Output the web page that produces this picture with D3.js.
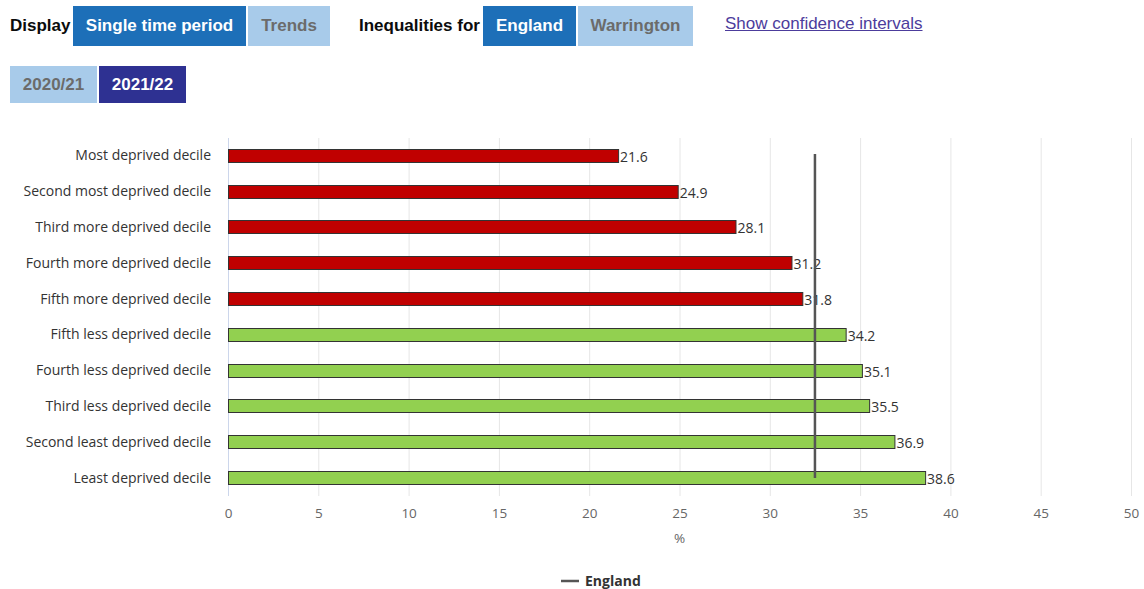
<!DOCTYPE html>
<html>
<head>
<meta charset="utf-8">
<script src="https://cdn.jsdelivr.net/npm/d3@7"></script>
<style>
  html, body { margin: 0; padding: 0; background: #fff; width: 1144px; height: 589px; overflow: hidden; }
  .ctl { position: absolute; font-family: "Liberation Sans", Arial, sans-serif; font-size: 17px; font-weight: bold; box-sizing: border-box; display: flex; align-items: center; justify-content: center; }
  .lbl { color: #0b0c0c; justify-content: flex-start; }
  .on { background: #1d6fb8; color: #fff; }
  .off { background: #a8cbea; color: #6b6b6b; }
  .navy { background: #2e3192; color: #fff; }
  .link { color: #4c3c9c; font-weight: normal; text-decoration: underline; justify-content: flex-start; }
  svg { position: absolute; left: 0; top: 0; }
</style>
</head>
<body>
<div class="ctl lbl" style="left:10px;top:6px;width:62px;height:39px;">Display</div>
<div class="ctl on" style="left:73px;top:6px;width:173px;height:40px;">Single time period</div>
<div class="ctl off" style="left:248px;top:6px;width:82px;height:40px;">Trends</div>
<div class="ctl lbl" style="left:359px;top:6px;width:124px;height:39px;">Inequalities for</div>
<div class="ctl on" style="left:483px;top:6px;width:93px;height:40px;">England</div>
<div class="ctl off" style="left:578px;top:6px;width:115px;height:40px;">Warrington</div>
<div class="ctl link" style="left:725px;top:4px;width:220px;height:39px;">Show confidence intervals</div>
<div class="ctl off" style="left:10px;top:66px;width:87px;height:37px;">2020/21</div>
<div class="ctl navy" style="left:99px;top:66px;width:87px;height:37px;">2021/22</div>
<svg id="chart" width="1144" height="589"></svg>
<script>
const categories = [
  "Most deprived decile",
  "Second most deprived decile",
  "Third more deprived decile",
  "Fourth more deprived decile",
  "Fifth more deprived decile",
  "Fifth less deprived decile",
  "Fourth less deprived decile",
  "Third less deprived decile",
  "Second least deprived decile",
  "Least deprived decile"
];
const values = [21.6, 24.9, 28.1, 31.2, 31.8, 34.2, 35.1, 35.5, 36.9, 38.6];
const groups = ["more", "more", "more", "more", "more", "less", "less", "less", "less", "less"];
const englandValue = 32.5;
const xTicks = [0, 5, 10, 15, 20, 25, 30, 35, 40, 45, 50];
const xTitle = "%";
const legendLabel = "England";

const svg = d3.select("#chart");
const font = "'Open Sans', sans-serif";
const x = d3.scaleLinear().domain([0, 50]).range([228, 1131]);
const y = d3.scaleBand().domain(categories).range([138, 496]).paddingInner(0.6).paddingOuter(0.3);
const colour = d3.scaleOrdinal().domain(["more", "less"]).range(["#c00000", "#92d050"]);

// gridlines
svg.append("g").selectAll("line").data(xTicks).join("line")
  .attr("x1", d => x(d) + 0.5).attr("x2", d => x(d) + 0.5)
  .attr("y1", 138).attr("y2", 496)
  .attr("stroke", d => d === 0 ? "#ccd6eb" : "#e6e6e6").attr("stroke-width", 1);

// x axis labels
const xAxis = d3.axisBottom(x).tickValues(xTicks).tickSize(0).tickPadding(0).tickFormat(d3.format("d"));
const gx = svg.append("g").attr("transform", "translate(0,508)").call(xAxis);
gx.select(".domain").remove();
gx.selectAll("text").attr("font-family", font).attr("font-size", 13.5).attr("fill", "#666").attr("dy", "0.71em");

svg.append("text").attr("x", x(25)).attr("y", 543).attr("text-anchor", "middle")
  .attr("font-family", font).attr("font-size", 13.5).attr("fill", "#666").text(xTitle);

// y axis labels
const yAxis = d3.axisLeft(y).tickSize(0).tickPadding(0);
const gy = svg.append("g").attr("transform", "translate(211,0)").call(yAxis);
gy.select(".domain").remove();
gy.selectAll("text").attr("font-family", font).attr("font-size", 14).attr("fill", "#333");

// bars
const rows = categories.map((c, i) => ({ c, v: values[i], g: groups[i] }));
svg.append("g").selectAll("rect").data(rows).join("rect")
  .attr("x", x(0) + 0.5)
  .attr("y", d => Math.round(y(d.c)) + 0.5)
  .attr("width", d => x(d.v) - x(0))
  .attr("height", Math.round(y.bandwidth()) - 1)
  .attr("fill", d => colour(d.g))
  .attr("stroke", "#333").attr("stroke-width", 1);

// value labels
svg.append("g").selectAll("text").data(rows).join("text")
  .attr("x", d => x(d.v) + 2)
  .attr("y", d => y(d.c) + y.bandwidth() / 2 + 1)
  .attr("dy", "0.35em")
  .attr("font-family", font).attr("font-size", 14).attr("fill", "#333")
  .text(d => d.v.toFixed(1));

// England line
svg.append("line")
  .attr("x1", x(englandValue)).attr("x2", x(englandValue))
  .attr("y1", y(categories[0]) + y.bandwidth() / 2 - 2)
  .attr("y2", y(categories[categories.length - 1]) + y.bandwidth() / 2)
  .attr("stroke", "#555").attr("stroke-width", 2.5);

// legend
svg.append("line").attr("x1", 561).attr("x2", 579).attr("y1", 581).attr("y2", 581)
  .attr("stroke", "#555").attr("stroke-width", 2.5);
svg.append("text").attr("x", 585).attr("y", 581).attr("dy", "0.35em")
  .attr("font-family", font).attr("font-size", 14).attr("font-weight", "bold").attr("fill", "#333")
  .text(legendLabel);
</script>
</body>
</html>
